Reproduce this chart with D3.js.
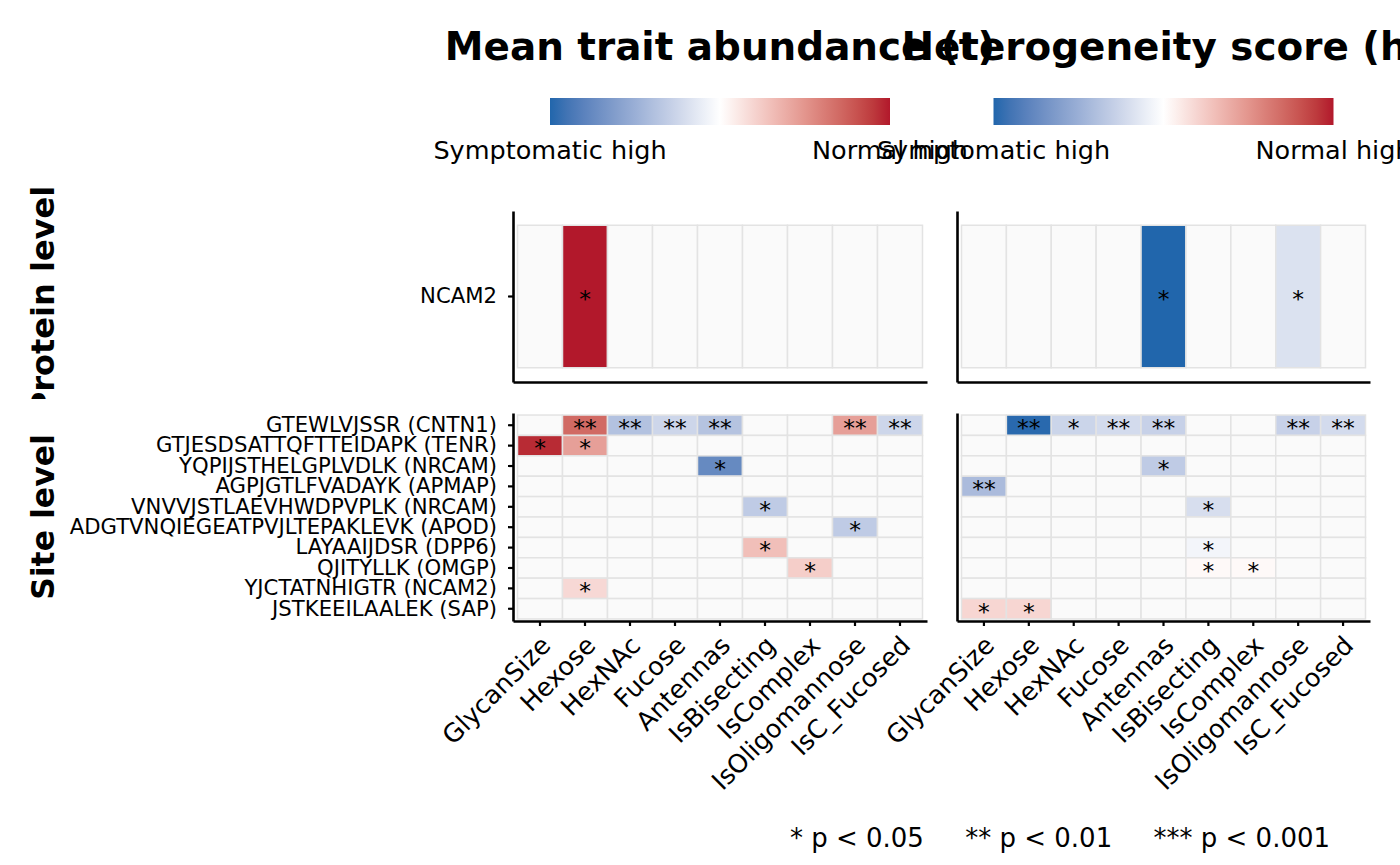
<!DOCTYPE html>
<html>
<head>
<meta charset="utf-8">
<script src="https://cdn.jsdelivr.net/npm/d3@7"></script>
<style>
  body { margin: 0; background: #fff; }
  text { font-family: "DejaVu Sans", sans-serif; fill: #000; }
</style>
</head>
<body>
<div id="chart"></div>
<script>
var traits = ["GlycanSize", "Hexose", "HexNAc", "Fucose", "Antennas", "IsBisecting", "IsComplex", "IsOligomannose", "IsC_Fucosed"];
var proteins = ["NCAM2"];
var sites = ["GTEWLVJSSR (CNTN1)", "GTJESDSATTQFTTEIDAPK (TENR)", "YQPIJSTHELGPLVDLK (NRCAM)",
             "AGPJGTLFVADAYK (APMAP)", "VNVVJSTLAEVHWDPVPLK (NRCAM)", "ADGTVNQIEGEATPVJLTEPAKLEVK (APOD)",
             "LAYAAIJDSR (DPP6)", "QJITYLLK (OMGP)", "YJCTATNHIGTR (NCAM2)", "JSTKEEILAALEK (SAP)"];

var panelTitles = ["Mean trait abundance (t)", "Heterogeneity score (h)"];
var legendLabels = ["Symptomatic high", "Normal high"];
var levelLabels = ["Protein level", "Site level"];
var pNote = "* p < 0.05     ** p < 0.01     *** p < 0.001";

// scaled scores, -1 = symptomatic high, 1 = normal high, null = not significant
var tProtein = [[null, 1.00, null, null, null, null, null, null, null]];
var tProteinSig = [["", "*", "", "", "", "", "", "", ""]];

var tSite = [
  [null, 0.70, -0.38, -0.25, -0.37, null, null, 0.45, -0.25],
  [0.95, 0.45, null, null, null, null, null, null, null],
  [null, null, null, null, -0.75, null, null, null, null],
  [null, null, null, null, null, null, null, null, null],
  [null, null, null, null, null, -0.32, null, null, null],
  [null, null, null, null, null, null, null, -0.32, null],
  [null, null, null, null, null, 0.30, null, null, null],
  [null, null, null, null, null, null, 0.23, null, null],
  [null, 0.18, null, null, null, null, null, null, null],
  [null, null, null, null, null, null, null, null, null]
];
var tSiteSig = [
  ["", "**", "**", "**", "**", "", "", "**", "**"],
  ["*", "*", "", "", "", "", "", "", ""],
  ["", "", "", "", "*", "", "", "", ""],
  ["", "", "", "", "", "", "", "", ""],
  ["", "", "", "", "", "*", "", "", ""],
  ["", "", "", "", "", "", "", "*", ""],
  ["", "", "", "", "", "*", "", "", ""],
  ["", "", "", "", "", "", "*", "", ""],
  ["", "*", "", "", "", "", "", "", ""],
  ["", "", "", "", "", "", "", "", ""]
];

var hProtein = [[null, null, null, null, -1.00, null, null, -0.18, null]];
var hProteinSig = [["", "", "", "", "*", "", "", "*", ""]];

var hSite = [
  [null, -0.98, -0.26, -0.22, -0.28, null, null, -0.28, -0.22],
  [null, null, null, null, null, null, null, null, null],
  [null, null, null, null, -0.32, null, null, null, null],
  [-0.42, null, null, null, null, null, null, null, null],
  [null, null, null, null, null, -0.20, null, null, null],
  [null, null, null, null, null, null, null, null, null],
  [null, null, null, null, null, -0.06, null, null, null],
  [null, null, null, null, null, 0.03, 0.03, null, null],
  [null, null, null, null, null, null, null, null, null],
  [0.19, 0.19, null, null, null, null, null, null, null]
];
var hSiteSig = [
  ["", "**", "*", "**", "**", "", "", "**", "**"],
  ["", "", "", "", "", "", "", "", ""],
  ["", "", "", "", "*", "", "", "", ""],
  ["**", "", "", "", "", "", "", "", ""],
  ["", "", "", "", "", "*", "", "", ""],
  ["", "", "", "", "", "", "", "", ""],
  ["", "", "", "", "", "*", "", "", ""],
  ["", "", "", "", "", "*", "*", "", ""],
  ["", "", "", "", "", "", "", "", ""],
  ["*", "*", "", "", "", "", "", "", ""]
];

var W = 1400, H = 865;

var color = d3.scaleLinear()
    .domain([-1, 0, 1])
    .range(["#2166AC", "#FFFFFF", "#B2182B"])
    .interpolate(d3.interpolateLab)
    .clamp(true);

var svg = d3.select("#chart").append("svg")
    .attr("width", W)
    .attr("height", H);

var cols = [[513, 927], [957, 1370]];
var protY = [211, 382], siteY = [413, 621];

var yProt = d3.scaleBand().domain(proteins).range(protY).paddingOuter(0.1);
var ySite = d3.scaleBand().domain(sites).range(siteY).paddingOuter(0.1);

function toCells(rows, vals, sig) {
    var out = [];
    rows.forEach(function(r, i) {
        traits.forEach(function(t, j) {
            out.push({row: r, trait: t, v: vals[i][j], s: sig[i][j]});
        });
    });
    return out;
}

function drawPanel(xr, y, cells, opts) {
    var x = d3.scaleBand().domain(traits).range(xr).paddingOuter(0.1);
    var g = svg.append("g");

    g.selectAll("rect.cell")
        .data(cells)
        .enter().append("rect")
        .attr("class", "cell")
        .attr("x", function(d) { return x(d.trait); })
        .attr("y", function(d) { return y(d.row); })
        .attr("width", x.bandwidth())
        .attr("height", y.bandwidth())
        .attr("fill", function(d) { return d.v == null ? "#FAFAFA" : color(d.v); })
        .attr("stroke", "#E3E3E3")
        .attr("stroke-width", 1.5);

    g.selectAll("text.sig")
        .data(cells.filter(function(d) { return d.s; }))
        .enter().append("text")
        .attr("class", "sig")
        .attr("x", function(d) { return x(d.trait) + x.bandwidth() / 2; })
        .attr("y", function(d) { return y(d.row) + y.bandwidth() / 2; })
        .attr("dy", "0.46em")
        .attr("text-anchor", "middle")
        .style("font-size", "23.5px")
        .text(function(d) { return d.s; });

    // y axis
    var ya = g.append("g")
        .attr("transform", "translate(" + xr[0] + ",0)")
        .call(d3.axisLeft(y).tickSize(opts.yLabels ? 5 : 0).tickSizeOuter(0).tickPadding(11));
    if (!opts.yLabels) ya.selectAll("text").remove();
    ya.selectAll("text").style("font-size", "21.2px").attr("fill", "#000");

    // x axis
    var xa = g.append("g")
        .attr("transform", "translate(0," + y.range()[1] + ")")
        .call(d3.axisBottom(x).tickSize(opts.xLabels ? 5 : 0).tickSizeOuter(0));
    if (!opts.xLabels) {
        xa.selectAll("text").remove();
    } else {
        xa.selectAll("text")
            .attr("x", 0).attr("y", 0)
            .attr("dy", "0.72em")
            .attr("text-anchor", "end")
            .attr("transform", "translate(-1,13) rotate(-45)")
            .style("font-size", "25.5px")
            .attr("fill", "#000");
    }

    [ya, xa].forEach(function(a) {
        a.select(".domain").attr("stroke", "#000").attr("stroke-width", 2.6);
        a.selectAll(".tick line").attr("stroke", "#000").attr("stroke-width", 2.2);
        a.attr("font-family", null).attr("font-size", null);
    });
}

drawPanel(cols[0], yProt, toCells(proteins, tProtein, tProteinSig), {yLabels: true, xLabels: false});
drawPanel(cols[1], yProt, toCells(proteins, hProtein, hProteinSig), {yLabels: false, xLabels: false});
drawPanel(cols[0], ySite, toCells(sites, tSite, tSiteSig), {yLabels: true, xLabels: true});
drawPanel(cols[1], ySite, toCells(sites, hSite, hSiteSig), {yLabels: false, xLabels: true});

// legends and titles
var defs = svg.append("defs");
var grad = defs.append("linearGradient").attr("id", "grad");
d3.range(0, 1.0001, 0.05).forEach(function(t) {
    grad.append("stop").attr("offset", t).attr("stop-color", color(-1 + 2 * t));
});

cols.forEach(function(xr, i) {
    var cx = (xr[0] + xr[1]) / 2;
    var lx = d3.scaleLinear().domain([-1, 1]).range([cx - 170, cx + 170]);
    svg.append("rect")
        .attr("x", lx(-1)).attr("y", 98)
        .attr("width", lx(1) - lx(-1)).attr("height", 27)
        .attr("fill", "url(#grad)");
    svg.append("text")
        .attr("x", cx).attr("y", 60)
        .attr("text-anchor", "middle")
        .style("font-size", "38.9px").style("font-weight", "bold")
        .text(panelTitles[i]);
    [-1, 1].forEach(function(v, k) {
        svg.append("text")
            .attr("x", lx(v)).attr("y", 159)
            .attr("text-anchor", "middle")
            .style("font-size", "25.5px")
            .text(legendLabels[k]);
    });
});

// level strip labels (protein label is cut where the site-level plot starts)
defs.append("clipPath").attr("id", "protClip")
    .append("rect").attr("x", 0).attr("y", 0).attr("width", 120).attr("height", 399);

svg.append("g")
    .attr("clip-path", "url(#protClip)")
  .append("text")
    .attr("transform", "translate(54," + (d3.mean(protY) + 4) + ") rotate(-90)")
    .attr("text-anchor", "middle")
    .style("font-size", "32px").style("font-weight", "bold")
    .text(levelLabels[0]);

svg.append("text")
    .attr("transform", "translate(54," + d3.mean(siteY) + ") rotate(-90)")
    .attr("text-anchor", "middle")
    .style("font-size", "31.5px").style("font-weight", "bold")
    .text(levelLabels[1]);

// significance note
svg.append("text")
    .attr("x", 1060).attr("y", 847)
    .attr("text-anchor", "middle")
    .style("font-size", "26px")
    .style("white-space", "pre")
    .text(pNote);
</script>
</body>
</html>
